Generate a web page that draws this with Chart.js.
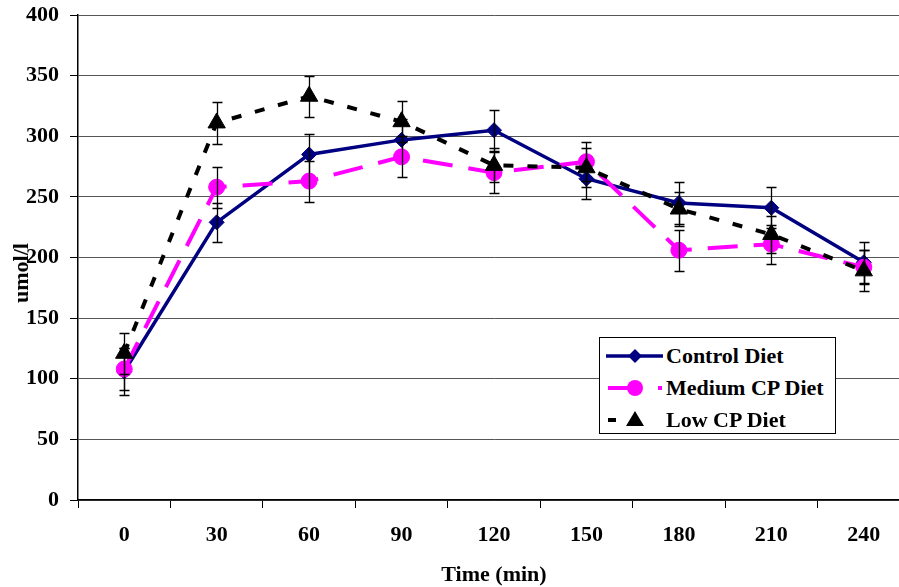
<!DOCTYPE html>
<html><head><meta charset="utf-8">
<script src="https://cdn.jsdelivr.net/npm/chart.js@4/dist/chart.umd.min.js"></script>
<style>
html,body{margin:0;padding:0;background:#fff;overflow:hidden}
#wrap{position:relative;width:899px;height:587px;overflow:hidden;background:#fff}
#c{position:absolute;left:0;top:0}
#ytitle{position:absolute;left:21px;top:273px;transform:translate(-50%,-50%) rotate(-90deg);font:bold 22px "Liberation Serif","Times New Roman",serif;color:#000;white-space:nowrap;line-height:22px}
#legend{position:absolute;left:599px;top:337px;width:235px;height:95px;border:1px solid #000;background:#fff;font:bold 22px "Liberation Serif","Times New Roman",serif;color:#000}
.row{position:absolute;left:0;height:32px;width:235px}
.row svg{position:absolute;left:0;top:0}
.row span{position:absolute;left:66px;top:0;line-height:32px;white-space:nowrap}
</style></head>
<body>
<div id="wrap">
<canvas id="c" width="921" height="587"></canvas>
<div id="ytitle"></div>
<div id="legend"></div>
</div>
<script>
// ---- data ----
const categories = ['0','30','60','90','120','150','180','210','240'];
const seriesNames = ['Control Diet','Medium CP Diet','Low CP Diet'];
const controlDiet  = [106, 229, 285, 297, 305, 265, 245, 241, 196];
const mediumCPDiet = [108, 258, 263, 283, 270, 279, 206, 211, 192];
const lowCPDiet    = [121, 311, 333, 312, 276, 274, 240, 219, 189];
const controlErr   = [19, 16, 17, 17, 17, 17, 17, 17, 17];
const mediumErr    = [17, 17, 17, 17, 17, 16, 17, 16, 14];
const lowErr       = [17, 17, 17, 17, 14, 16, 14, 15, 17];
const yTickValues  = [0, 50, 100, 150, 200, 250, 300, 350, 400];
const xTitle = 'Time (min)';
const yTitle = 'umol/l';

const FONT = "'Liberation Serif','Times New Roman',serif";

const errorBars = {
  id: 'errorBars',
  afterDatasetDraw(chart, args) {
    const ds = chart.data.datasets[args.index];
    if (!ds.errors) return;
    const y = chart.scales.y, ctx = chart.ctx;
    ctx.save();
    ctx.strokeStyle = '#000';
    ctx.lineWidth = 1.3;
    args.meta.data.forEach((pt, i) => {
      const v = ds.data[i], e = ds.errors[i];
      const t = Math.round(y.getPixelForValue(v + e)) + 0.5;
      const b = Math.round(y.getPixelForValue(v - e)) + 0.5;
      const x = Math.round(pt.x) + 0.5;
      ctx.beginPath();
      ctx.moveTo(x, t); ctx.lineTo(x, b);
      ctx.moveTo(x - 5, t); ctx.lineTo(x + 5, t);
      ctx.moveTo(x - 5, b); ctx.lineTo(x + 5, b);
      ctx.stroke();
    });
    ctx.restore();
  }
};

new Chart(document.getElementById('c'), {
  type: 'line',
  data: {
    labels: categories,
    datasets: [
      { label: seriesNames[0], data: controlDiet, errors: controlErr, order: 3,
        borderColor: '#000080', backgroundColor: '#000080', borderWidth: 3.5,
        pointStyle: 'rectRot', pointRadius: 7.5, pointBorderWidth: 1, pointBorderColor: '#000080', pointBackgroundColor: '#000080', tension: 0 },
      { label: seriesNames[1], data: mediumCPDiet, errors: mediumErr, order: 2,
        borderColor: '#FF00FF', backgroundColor: '#FF00FF', borderWidth: 4, borderDash: [30, 16],
        pointStyle: 'circle', pointRadius: 8, pointBorderWidth: 1, pointBorderColor: '#FF00FF', pointBackgroundColor: '#FF00FF', tension: 0 },
      { label: seriesNames[2], data: lowCPDiet, errors: lowErr, order: 1,
        borderColor: '#000000', backgroundColor: '#000000', borderWidth: 4, borderDash: [10, 14],
        pointStyle: 'triangle', pointRadius: 10, pointBorderWidth: 1, pointBorderColor: '#000', pointBackgroundColor: '#000', tension: 0 }
    ]
  },
  options: {
    responsive: false,
    animation: false,
    devicePixelRatio: 1,
    layout: { padding: { top: 15, right: 1, left: 0, bottom: 0 } },
    plugins: { legend: { display: false }, tooltip: { enabled: false } },
    scales: {
      x: {
        type: 'category',
        offset: true,
        grid: { offset: true, drawOnChartArea: false, drawTicks: true, tickLength: 8, color: '#000', lineWidth: 1 },
        border: { color: '#000', width: 1.5 },
        ticks: { color: '#000', font: { family: FONT, size: 22, weight: 'bold' }, padding: 14, maxRotation: 0, minRotation: 0, autoSkip: false },
        title: { display: true, text: xTitle, color: '#000', font: { family: FONT, size: 22, weight: 'bold', lineHeight: 1 }, padding: { top: 0, bottom: 1 } },
        afterFit: s => { s.height = 87; }
      },
      y: {
        min: 0, max: 400,
        afterBuildTicks: s => { s.ticks = yTickValues.map(v => ({ value: v })); },
        grid: { color: '#555', lineWidth: 1, tickLength: 8, tickColor: '#000' },
        border: { color: '#000', width: 1.5 },
        ticks: { color: '#000', font: { family: FONT, size: 22, weight: 'bold' }, padding: 11 },
        title: { display: false },
        afterFit: s => { s.width = 78; s.paddingTop = 0; s.paddingBottom = 0; }
      }
    }
  },
  plugins: [errorBars]
});

document.getElementById('ytitle').textContent = yTitle;

// ---- legend (HTML) ----
const legendEl = document.getElementById('legend');
const sym = [
  '<line x1="6" y1="16" x2="63" y2="16" stroke="#000080" stroke-width="3.5"/><polygon points="35,9 42,16 35,23 28,16" fill="#000080"/>',
  '<line x1="8" y1="16" x2="38" y2="16" stroke="#FF00FF" stroke-width="4"/><line x1="58" y1="16" x2="62" y2="16" stroke="#FF00FF" stroke-width="4"/><circle cx="35" cy="16" r="8" fill="#FF00FF"/>',
  '<line x1="8" y1="16" x2="16" y2="16" stroke="#000" stroke-width="4"/><polygon points="35,7 44,22 26,22" fill="#000"/>'
];
seriesNames.forEach((n, i) => {
  const r = document.createElement('div');
  r.className = 'row';
  r.style.top = (2 + i * 32) + 'px';
  r.innerHTML = '<svg width="66" height="32">' + sym[i] + '</svg><span>' + n + '</span>';
  legendEl.appendChild(r);
});
</script>
</body></html>
